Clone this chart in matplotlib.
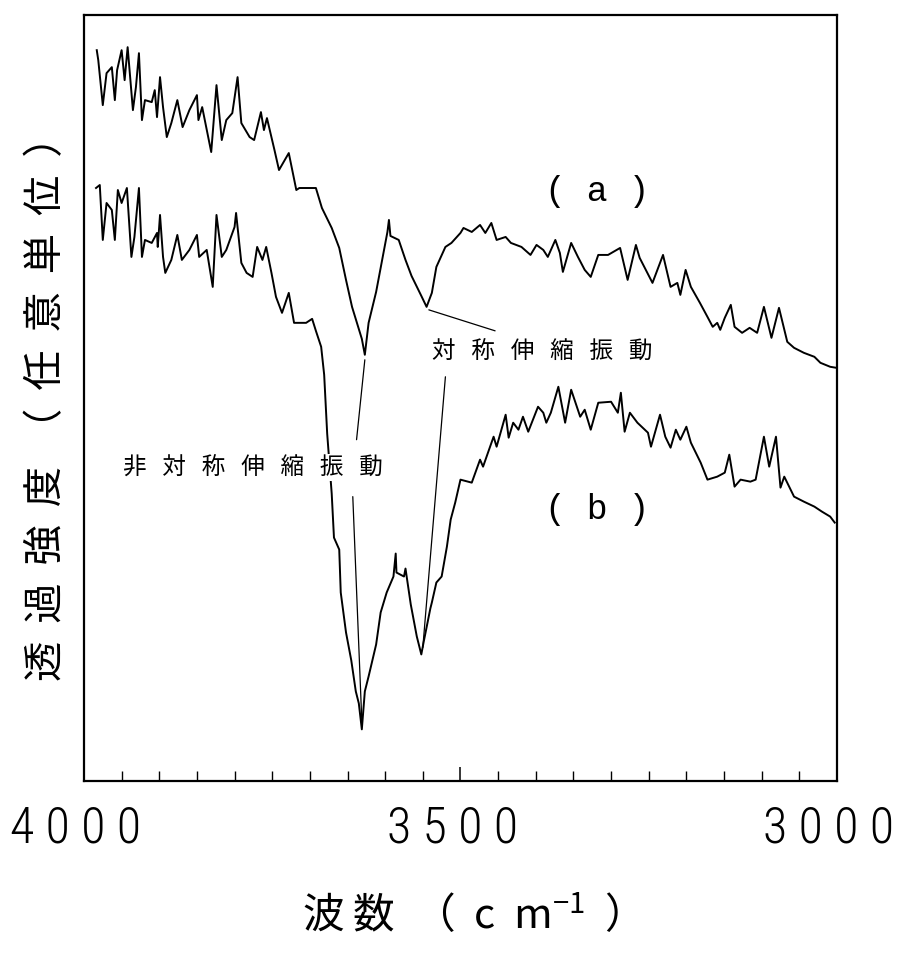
import matplotlib
matplotlib.use('Agg')
import matplotlib.pyplot as plt
import matplotlib.transforms as mtransforms
from matplotlib import font_manager
from matplotlib.ticker import MultipleLocator

# ---- data (wavenumber cm-1, arbitrary transmittance) ----
wn_a = [3983, 3981, 3975, 3970, 3963, 3959, 3956, 3950, 3946, 3942,
        3935, 3931, 3927, 3923, 3919, 3910, 3906, 3903, 3899, 3895,
        3890, 3884, 3876, 3869, 3860, 3850, 3848, 3843, 3831, 3824,
        3817, 3811, 3803, 3796, 3791, 3780, 3774, 3765, 3761, 3757,
        3747, 3741, 3728, 3718, 3714, 3692, 3684, 3671, 3661, 3652,
        3644, 3631, 3627, 3622, 3612, 3604, 3597, 3595, 3593, 3582,
        3573, 3565, 3552, 3545, 3538, 3532, 3526, 3520, 3512, 3500,
        3496, 3485, 3474, 3467, 3459, 3452, 3440, 3433, 3419, 3407,
        3399, 3390, 3384, 3374, 3368, 3364, 3353, 3344, 3335, 3327,
        3317, 3304, 3288, 3278, 3267, 3262, 3245, 3231, 3221, 3212,
        3208, 3201, 3194, 3182, 3172, 3165, 3159, 3155, 3149, 3141,
        3136, 3126, 3116, 3106, 3097, 3087, 3077, 3066, 3057, 3044,
        3030, 3022, 3009, 3001]
tr_a = [73.2, 72.2, 67.7, 70.9, 71.5, 68.2, 71.2, 73.2, 70.2, 73.5,
        67.2, 69.5, 72.9, 66.2, 68.2, 68.0, 69.2, 66.5, 70.5, 67.5,
        64.5, 65.9, 68.2, 65.5, 67.2, 68.7, 66.2, 67.5, 63.0, 69.7,
        64.2, 66.2, 66.9, 70.5, 65.9, 64.5, 64.2, 67.0, 65.2, 66.4,
        63.2, 61.2, 62.9, 59.2, 59.4, 59.4, 57.4, 55.4, 53.4, 50.2,
        47.5, 44.3, 42.7, 45.9, 49.0, 52.2, 55.0, 56.2, 54.6, 54.2,
        52.2, 50.6, 48.6, 47.5, 48.9, 51.5, 52.5, 53.5, 53.9, 54.9,
        55.4, 55.0, 55.7, 54.9, 55.9, 54.2, 54.5, 53.9, 53.5, 52.7,
        53.7, 53.2, 52.5, 54.2, 52.9, 51.0, 53.9, 52.5, 51.2, 50.5,
        52.7, 52.7, 53.4, 50.2, 53.7, 52.4, 49.9, 52.7, 49.5, 49.9,
        48.7, 51.2, 49.5, 47.9, 46.5, 45.5, 45.9, 45.2, 46.4, 47.7,
        45.5, 44.9, 45.4, 44.9, 47.5, 44.4, 47.4, 44.0, 43.4, 42.9,
        42.5, 41.9, 41.5, 41.4]

wn_b = [3984, 3979, 3975, 3970, 3963, 3959, 3955, 3950, 3943, 3937,
        3933, 3927, 3923, 3919, 3910, 3903, 3902, 3899, 3895, 3892,
        3884, 3876, 3870, 3860, 3850, 3847, 3837, 3829, 3824, 3817,
        3811, 3800, 3798, 3791, 3784, 3776, 3770, 3763, 3758, 3751,
        3745, 3737, 3728, 3721, 3718, 3705, 3697, 3692, 3685, 3681,
        3677, 3671, 3668, 3661, 3659, 3652, 3645, 3639, 3635, 3631,
        3627, 3622, 3612, 3606, 3598, 3589, 3586, 3585, 3575, 3573,
        3566, 3558, 3552, 3549, 3540, 3538, 3532, 3525, 3518, 3513,
        3507, 3500, 3485, 3474, 3470, 3456, 3452, 3440, 3436, 3430,
        3423, 3417, 3410, 3397, 3390, 3386, 3380, 3370, 3361, 3353,
        3341, 3335, 3327, 3317, 3300, 3291, 3287, 3282, 3275, 3265,
        3251, 3247, 3235, 3228, 3221, 3214, 3208, 3200, 3194, 3181,
        3172, 3159, 3149, 3143, 3136, 3128, 3115, 3108, 3097, 3090,
        3081, 3075, 3070, 3057, 3044, 3030, 3020, 3009, 3003]
tr_b = [59.4, 59.7, 54.2, 57.9, 57.2, 54.2, 59.2, 57.9, 59.4, 52.5,
        54.5, 59.4, 52.5, 54.2, 53.9, 54.9, 53.5, 56.7, 52.5, 50.9,
        52.2, 54.7, 52.2, 53.2, 54.7, 52.5, 53.2, 49.5, 56.7, 52.5,
        53.2, 55.5, 56.9, 51.9, 50.9, 50.5, 53.5, 52.2, 53.5, 50.9,
        48.5, 46.9, 48.9, 45.9, 45.9, 45.9, 46.3, 45.1, 43.5, 40.7,
        34.8, 28.8, 24.4, 23.2, 18.9, 14.9, 12.1, 9.0, 7.8, 5.2,
        9.0, 10.5, 13.7, 16.9, 18.9, 20.5, 22.8, 20.9, 20.5, 21.3,
        17.7, 14.5, 12.7, 13.9, 17.3, 17.9, 19.9, 20.5, 23.5, 26.2,
        27.9, 30.2, 29.9, 32.2, 31.5, 34.5, 33.5, 36.7, 34.4, 35.9,
        35.2, 36.5, 35.0, 37.5, 36.9, 35.9, 36.9, 39.5, 35.9, 39.2,
        36.5, 37.2, 35.2, 37.9, 38.0, 36.9, 38.9, 35.0, 36.9, 35.9,
        34.9, 33.5, 36.7, 34.5, 33.4, 35.2, 34.2, 35.5, 33.9, 31.9,
        30.2, 30.5, 30.9, 32.7, 29.5, 30.2, 30.0, 30.2, 34.5, 31.5,
        34.5, 29.4, 30.5, 28.5, 28.0, 27.5, 27.0, 26.5, 25.9]

tick_pos = [4000, 3500, 3000]
tick_digits = ['4000', '3500', '3000']

# annotation texts and their leader lines (from peak -> label)
asym_label = '非   対   称   伸   縮   振   動'
sym_label = '対   称   伸   縮   振   動'
asym_pos = (3776, 31.4)
sym_pos = (3392, 43.0)
leaders = [((3627, 42.2), (3638, 34.2)),
           ((3643, 28.5), (3631, 6.0)),
           ((3542, 47.2), (3454, 45.1)),
           ((3520, 40.5), (3550, 13.4))]


def have_font(name):
    try:
        font_manager.findfont(name, fallback_to_default=False)
        return True
    except ValueError:
        return False


plt.rcParams['font.family'] = ['Noto Sans CJK JP', 'DejaVu Sans']

# narrow digits like the typeset original; fall back to plain DejaVu
num_font, num_size, sep = 'DejaVu Sans', 32, '\u2009'
for cand in ['Liberation Sans Narrow', 'DejaVu Sans Condensed', 'Roboto Condensed']:
    if have_font(cand):
        num_font, num_size, sep = cand, 36, ' '
        break
tick_labels = [sep.join(t) for t in tick_digits]

fig = plt.figure(figsize=(8.99, 9.54), dpi=100)
ax = fig.add_axes([0.0934, 0.180, 0.8376, 0.803])

ax.plot(wn_a, tr_a, color='black', lw=1.4, zorder=3)
ax.plot(wn_b, tr_b, color='black', lw=1.4, zorder=3)

ax.set_xlim(4000, 3000)
ax.set_ylim(0, 76.7)

# axis cosmetics
for s in ax.spines.values():
    s.set_linewidth(1.6)
ax.set_yticks([])
ax.set_xticks(tick_pos)
ax.set_xticklabels(tick_labels, family=num_font, fontsize=num_size,
                   fontweight='light')
ax.xaxis.set_minor_locator(MultipleLocator(50))
ax.tick_params(axis='x', which='major', direction='in', length=10, width=1.1, pad=16)
ax.tick_params(axis='x', which='minor', direction='in', length=7, width=1.0)

# the printed numbers sit a little left of their ticks
shift = mtransforms.ScaledTranslation(-8 / 100, 0, fig.dpi_scale_trans)
for lab in ax.get_xticklabels():
    lab.set_transform(lab.get_transform() + shift)

ax.set_xlabel('波 数  （  c  $\\mathregular{m^{-1}}$  ）', fontsize=30, labelpad=30)
ax.set_ylabel('透  過  強  度  （  任  意  単  位  ）', fontsize=29, labelpad=12)

# curve labels
ax.text(0.681, 0.771, '( a )', transform=ax.transAxes, family='Liberation Mono',
        fontsize=25, ha='center', va='center')
ax.text(0.681, 0.356, '( b )', transform=ax.transAxes, family='Liberation Mono',
        fontsize=25, ha='center', va='center')

# leader lines + vibration labels
for p0, p1 in leaders:
    ax.annotate('', xy=p1, xytext=p0,
                arrowprops=dict(arrowstyle='-', lw=0.9, color='black',
                                shrinkA=0, shrinkB=0), zorder=4)

ax.text(asym_pos[0], asym_pos[1], asym_label, fontsize=17, ha='center', va='center',
        bbox=dict(facecolor='white', edgecolor='none', pad=1.5), zorder=5)
ax.text(sym_pos[0], sym_pos[1], sym_label, fontsize=17, ha='center', va='center',
        bbox=dict(facecolor='white', edgecolor='none', pad=1.5), zorder=5)

plt.savefig('out.png', dpi=100)
